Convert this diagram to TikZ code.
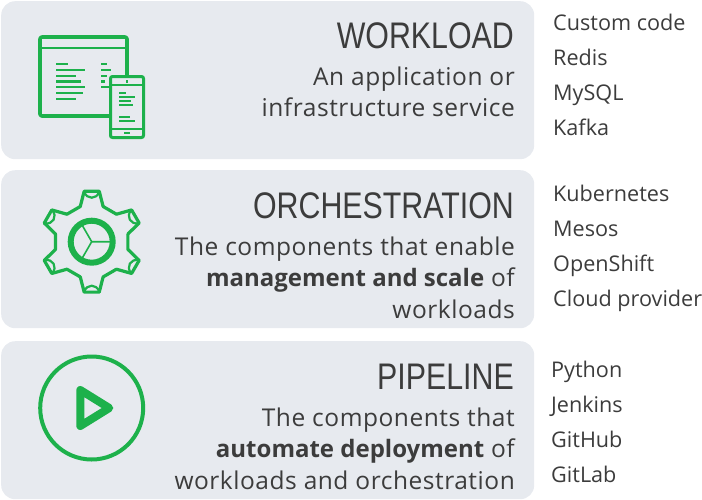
\documentclass[tikz,border=0pt]{standalone}
\usepackage{fontspec}
\setmainfont{Open Sans}
\newfontfamily\headfont[FakeStretch=0.82]{Liberation Sans}
\newfontfamily\descfont[LetterSpace=2.2]{Open Sans}
\usetikzlibrary{positioning}
\definecolor{panelgray}{HTML}{E7EAEF}
\definecolor{icongreen}{HTML}{1DB14B}
\definecolor{textgray}{HTML}{3C3C3C}
\tikzset{
	panel/.style={draw=none, fill=panelgray, rounded corners=14pt, minimum width=533pt, minimum height=158pt, inner sep=0pt, anchor=north west},
	heading/.style={anchor=base east, inner sep=0pt, text=textgray, font=\headfont\fontsize{37}{37}\selectfont},
	descr/.style={anchor=base east, inner sep=0pt, text=textgray, font=\descfont\fontsize{24.5}{24.5}\selectfont},
	item/.style={anchor=base west, inner sep=0pt, text=textgray, font=\fontsize{21.6}{21.6}\selectfont},
	icon/.style={draw=icongreen, line join=round, line cap=round},
	bar/.style={fill=icongreen}
}
\newcommand{\boldpart}[1]{{\fontspec{Open Sans Bold}\fontsize{24}{24}\selectfont #1}}
\begin{document}
\begin{tikzpicture}[x=1pt, y=-1pt, node distance=35.2pt]
	\useasboundingbox (0,0) rectangle (702,499);
	% Panels
	\node [panel] (workload)  at (1,1)   {};
	\node [panel] (orchestr)  at (1,170) {};
	\node [panel] (pipeline)  at (1,341) {};

	% Headings and descriptions
	\node [heading] (h1) at (514,48.5)  {WORKLOAD};
	\node [descr]   (d1) at (515,85)  {An application or};
	\node [descr]   (e1) at (515,116) {infrastructure service};
	\node [heading] (h2) at (514,218.5) {ORCHESTRATION};
	\node [descr]   (d2) at (515,255) {The components that enable};
	\node [descr]   (e2) at (515,286) {\boldpart{management and scale} of};
	\node [descr]   (f2) at (515,318) {workloads};
	\node [heading] (h3) at (514,389.5) {PIPELINE};
	\node [descr]   (d3) at (515,426) {The components that};
	\node [descr]   (e3) at (515,457) {\boldpart{automate deployment} of};
	\node [descr]   (f3) at (515,489) {workloads and orchestration};

	% Lists
	\node [item] (code)  at (553,30)  {Custom code};
	\node [item] (redis) [below=35.2pt of code.base west, anchor=base west] {Redis};
	\node [item] (mysql) [below=35.2pt of redis.base west, anchor=base west] {MySQL};
	\node [item] (kafka) [below=35.2pt of mysql.base west, anchor=base west] {Kafka};
	\node [item] (kube)  at (553,201) {Kubernetes};
	\node [item] (mesos) [below=35.2pt of kube.base west, anchor=base west] {Mesos};
	\node [item] (shift) [below=35.2pt of mesos.base west, anchor=base west] {OpenShift};
	\node [item] (cloud) [below=35.2pt of shift.base west, anchor=base west] {Cloud provider};
	\node [item] (python) at (551,377) {Python};
	\node [item] (jenkins) [below=35.2pt of python.base west, anchor=base west] {Jenkins};
	\node [item] (github) [below=35.2pt of jenkins.base west, anchor=base west] {GitHub};
	\node [item] (gitlab) [below=35.2pt of github.base west, anchor=base west] {GitLab};

	% Window and phone icon
	\draw [icon, line width=3.6pt, rounded corners=2pt] (40,37) rectangle (127,116);
	\draw [icon, line width=2.4pt, line cap=butt] (40,48) -- (127,48);
	\foreach \yy/\ww/\hh in {63.7/12/2, 70/29/2, 75.7/20/2, 81.3/25/3, 87/29/2, 92.7/27/2, 98.7/20/2}
		\fill [bar] (56,\yy-\hh/2) rectangle (56+\ww,\yy+\hh/2);
	\foreach \yy/\ww/\hh in {63.7/6/2, 70/10/2, 75.7/6/2, 81.3/4/3, 87/10/1.5}
		\fill [bar] (101,\yy-\hh/2) rectangle (101+\ww,\yy+\hh/2);
	\draw [icon, line width=3pt, fill=panelgray, rounded corners=2pt] (110.5,76.5) rectangle (143.5,137.5);
	\draw [icon, line width=1.8pt, line cap=butt] (110.5,85) -- (143.5,85) (110.5,128.7) -- (143.5,128.7);
	\foreach \yy/\ww in {92.7/7, 97/16, 100.7/12, 104.7/14, 116.7/11, 120.7/16}
		\fill [bar] (119,\yy-1) rectangle (119+\ww,\yy+1);
	\fill [bar] (126,80) rectangle (128,83);
	\fill [bar] (124,132) rectangle (130,134);

	% Gear icon
	\begin{scope}[shift={(91.7,241.7)}]
		\foreach \aa in {90,150,...,390} {
			\draw [icon, line width=3.2pt] (\aa-42:37) -- (\aa-18:37) -- (\aa-8.5:51) -- (\aa+8.5:51) -- (\aa+18:37);
			\draw [icon, line width=2.2pt, rotate=\aa] (-8.5:50.5) .. controls (42,-5) and (42,5) .. (8.5:50.5);
		}
		\draw [icon, line width=6pt] (0,0) circle (21);
		\draw [icon, line width=1.6pt] (0,0) -- (0:21) (0,0) -- (120:21) (0,0) -- (240:21);
	\end{scope}

	% Play icon
	\draw [icon, line width=4pt] (91.7,408) circle (51.5);
	\draw [icon, line width=8pt] (80.3,390) -- (80.3,426) -- (109.3,408) -- cycle;
\end{tikzpicture}
\end{document}
